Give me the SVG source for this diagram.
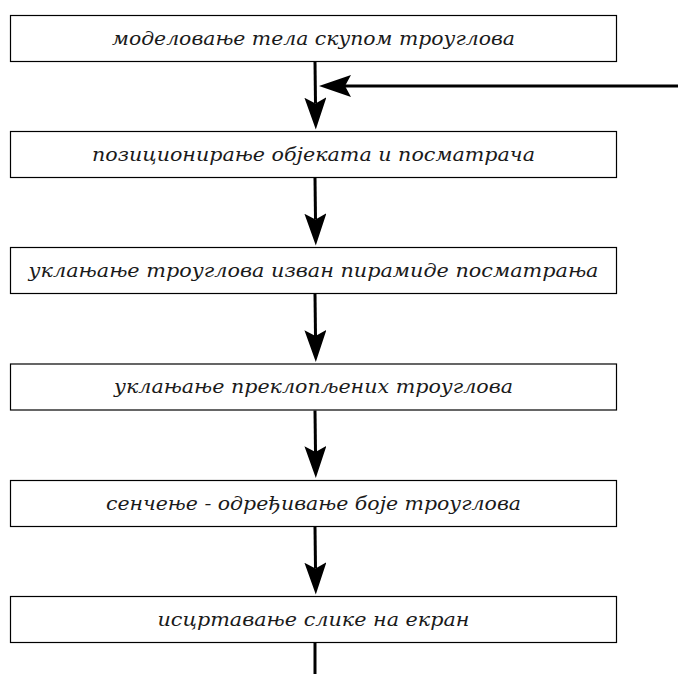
<svg xmlns="http://www.w3.org/2000/svg" width="678" height="674" viewBox="0 0 678 674">
  <style>
    .box { fill: #ffffff; stroke: #000000; stroke-width: 1.2; }
    .lbl { font-family: "DejaVu Serif", "Liberation Serif", serif; font-style: italic; font-size: 18.5px; fill: #1a1a1a; text-anchor: middle; }
    .edge { stroke: #000000; stroke-width: 3; fill: none; }
  </style>
  <defs>
    <marker id="ah" markerUnits="userSpaceOnUse" markerWidth="34" markerHeight="24" refX="6" refY="11" orient="auto">
      <path d="M0,0 L32,11 L0,22 L6,11 Z" fill="#000000"/>
    </marker>
  </defs>
  <rect width="678" height="674" fill="#ffffff"/>
  <g id="n1">
    <rect class="box" x="10.5" y="15.5" width="606" height="46"/>
    <text class="lbl" x="313.5" y="44.5" textLength="403" lengthAdjust="spacingAndGlyphs">моделовање тела скупом троуглова</text>
  </g>
  <g id="n2">
    <rect class="box" x="10.5" y="131.5" width="606" height="46"/>
    <text class="lbl" x="313.5" y="160.5" textLength="443" lengthAdjust="spacingAndGlyphs">позиционирање објеката и посматрача</text>
  </g>
  <g id="n3">
    <rect class="box" x="10.5" y="247.5" width="606" height="46"/>
    <text class="lbl" x="313.5" y="276.5" textLength="570" lengthAdjust="spacingAndGlyphs">уклањање троуглова изван пирамиде посматрања</text>
  </g>
  <g id="n4">
    <rect class="box" x="10.5" y="364" width="606" height="46"/>
    <text class="lbl" x="313.5" y="393" textLength="399" lengthAdjust="spacingAndGlyphs">уклањање преклопљених троуглова</text>
  </g>
  <g id="n5">
    <rect class="box" x="10.5" y="480.5" width="606" height="46"/>
    <text class="lbl" x="313.5" y="509.5" textLength="415" lengthAdjust="spacingAndGlyphs">сенчење - одређивање боје троуглова</text>
  </g>
  <g id="n6">
    <rect class="box" x="10.5" y="596.5" width="606" height="46"/>
    <text class="lbl" x="313.5" y="625.5" textLength="312" lengthAdjust="spacingAndGlyphs">исцртавање слике на екран</text>
  </g>
  <g id="edges">
    <line class="edge" x1="315" y1="62" x2="315.5" y2="103.5" marker-end="url(#ah)"/>
    <line class="edge" x1="678" y1="86" x2="345" y2="86" marker-end="url(#ah)"/>
    <line class="edge" x1="315" y1="178" x2="315.5" y2="219.5" marker-end="url(#ah)"/>
    <line class="edge" x1="315" y1="294" x2="315.5" y2="336" marker-end="url(#ah)"/>
    <line class="edge" x1="315" y1="410.5" x2="315.5" y2="452" marker-end="url(#ah)"/>
    <line class="edge" x1="315" y1="527" x2="315.5" y2="568.5" marker-end="url(#ah)"/>
    <line class="edge" x1="315" y1="643" x2="315" y2="674"/>
  </g>
</svg>
